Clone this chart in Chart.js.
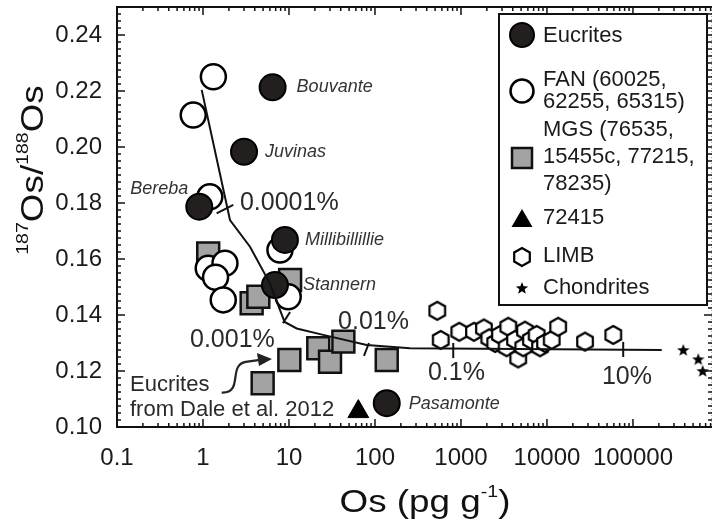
<!DOCTYPE html>
<html><head><meta charset="utf-8">
<script src="https://cdn.jsdelivr.net/npm/chart.js@4.4.1/dist/chart.umd.min.js"></script>
<style>html,body{margin:0;padding:0;background:#fff;overflow:hidden}#wrap{width:713px;height:530px;position:relative}canvas{display:block}</style>
</head><body><div id="wrap"><canvas id="c" width="713" height="530" style="width:713px;height:530px"></canvas></div>
<script>
// ---------- data ----------
const xTickValues = [0.1, 1, 10, 100, 1000, 10000, 100000];
const xTickLabels = ['0.1', '1', '10', '100', '1000', '10000', '100000'];
const yTickValues = [0.10, 0.12, 0.14, 0.16, 0.18, 0.20, 0.22, 0.24];
const yTickLabels = ['0.10', '0.12', '0.14', '0.16', '0.18', '0.20', '0.22', '0.24'];

const eucriteNames = ['Bouvante', 'Juvinas', 'Bereba', 'Millibillillie', 'Stannern', 'Pasamonte'];
const eucriteOs    = [6.45, 3.0, 0.905, 8.97, 6.87, 137];
const eucriteRatio = [0.2213, 0.1983, 0.1787, 0.1668, 0.1507, 0.1085];

const fanOs    = [1.32, 0.77, 1.2, 7.85, 1.15, 1.8, 1.4, 1.72, 9.8];
const fanRatio = [0.2251, 0.2114, 0.1822, 0.1632, 0.1567, 0.1585, 0.1535, 0.1454, 0.1465];

const mgsOs    = [1.15, 3.68, 4.4, 10.3, 10.1, 21.9, 30, 42.9, 137, 4.94];
const mgsRatio = [0.162, 0.1442, 0.1465, 0.1525, 0.1239, 0.1281, 0.1233, 0.1305, 0.1239, 0.1156];

const s72415Os    = [64];
const s72415Ratio = [0.1055];

const limbOs    = [530, 581, 955, 1416, 1849, 2133, 2500, 2838, 3400, 3548, 4250, 4634, 5300, 5545, 6500, 7586, 8300, 9500, 11350, 13500, 27700, 59000];
const limbRatio = [0.1415, 0.1311, 0.134, 0.134, 0.1352, 0.1317, 0.130, 0.1329, 0.1285, 0.1358, 0.1311, 0.1245, 0.1285, 0.1344, 0.1311, 0.1329, 0.1285, 0.130, 0.1311, 0.1358, 0.1305, 0.1329];

const chondriteOs    = [385000, 575000, 646000];
const chondriteRatio = [0.1275, 0.1242, 0.120];

const mixOs    = [0.966, 2.06, 3.52, 6.0, 7.85, 8.9, 12.3, 25, 80, 255, 216000];
const mixRatio = [0.2204, 0.1739, 0.1644, 0.1513, 0.1418, 0.1375, 0.1352, 0.1329, 0.1293, 0.1281, 0.1275];

const mixTickLabels = ['0.0001%', '0.001%', '0.01%', '0.1%', '10%'];

// ---------- layout / styling (not data) ----------
const FONT = '"Liberation Sans", Arial, Helvetica, sans-serif';
const nameOffsets = [[24, 0, 'left'], [21, 0, 'left'], [-11, -18, 'right'], [20, 0, 'left'], [28, 0, 'left'], [22, 1, 'left']];
const pctLabelPos = [[2.69, 0.180], [0.706, 0.1311], [37.2, 0.1375], [413, 0.1193], [43600, 0.1179]];
const mixTickSegs = [[[1.44, 0.1763], [2.25, 0.1793]], [[8.5, 0.1371], [10.3, 0.1411]], [[74.5, 0.1254], [85, 0.130]], [[813, 0.130], [813, 0.1246]], [[77000, 0.1304], [77000, 0.125]]];
const daleTextPos = [0.1416, 0.115];
const daleArrow = {start: [1.65, 0.1123], tip: [6.34, 0.1243]};

function pts(xs, ys) { return xs.map((x, i) => ({x: x, y: ys[i]})); }

const hexImg = (() => {
  const r = 9, lw = 2.2, s = 24;
  const c = document.createElement('canvas'); c.width = s; c.height = s;
  const g = c.getContext('2d'); g.translate(s / 2, s / 2);
  g.beginPath();
  for (let i = 0; i < 6; i++) { const a = Math.PI / 2 + i * Math.PI / 3; const px = r * Math.cos(a), py = r * Math.sin(a); i ? g.lineTo(px, py) : g.moveTo(px, py); }
  g.closePath(); g.fillStyle = '#fff'; g.fill(); g.lineWidth = lw; g.strokeStyle = '#000'; g.stroke();
  return c;
})();
const starImg = (() => {
  const R = 6.5, r0 = 2.8, s = 16;
  const c = document.createElement('canvas'); c.width = s; c.height = s;
  const g = c.getContext('2d'); g.translate(s / 2, s / 2 + 0.5);
  g.beginPath();
  for (let i = 0; i < 10; i++) { const a = -Math.PI / 2 + i * Math.PI / 5; const rr = i % 2 ? r0 : R; const px = rr * Math.cos(a), py = rr * Math.sin(a); i ? g.lineTo(px, py) : g.moveTo(px, py); }
  g.closePath(); g.fillStyle = '#000'; g.fill();
  return c;
})();

function line(ctx, x1, y1, x2, y2) { ctx.beginPath(); ctx.moveTo(x1, y1); ctx.lineTo(x2, y2); ctx.stroke(); }

const annotations = {
  id: 'annotations',
  afterDatasetsDraw(chart) {
    const ctx = chart.ctx, xs = chart.scales.x, ys = chart.scales.y;
    ctx.save();
    ctx.strokeStyle = '#111'; ctx.lineWidth = 2;
    mixTickSegs.forEach(s => line(ctx, xs.getPixelForValue(s[0][0]), ys.getPixelForValue(s[0][1]), xs.getPixelForValue(s[1][0]), ys.getPixelForValue(s[1][1])));
    ctx.fillStyle = '#2a2a2a'; ctx.font = '25px ' + FONT; ctx.textBaseline = 'middle'; ctx.textAlign = 'left';
    mixTickLabels.forEach((t, i) => ctx.fillText(t, xs.getPixelForValue(pctLabelPos[i][0]), ys.getPixelForValue(pctLabelPos[i][1])));
    ctx.font = 'italic 18px ' + FONT; ctx.fillStyle = '#333';
    eucriteNames.forEach((n, i) => {
      const o = nameOffsets[i];
      ctx.textAlign = o[2];
      ctx.fillText(n, xs.getPixelForValue(eucriteOs[i]) + o[0], ys.getPixelForValue(eucriteRatio[i]) + o[1]);
    });
    ctx.font = '22px ' + FONT; ctx.fillStyle = '#2a2a2a'; ctx.textAlign = 'left';
    const dx = xs.getPixelForValue(daleTextPos[0]), dy = ys.getPixelForValue(daleTextPos[1]);
    ctx.fillText('Eucrites', dx, dy);
    ctx.fillText('from Dale et al. 2012', dx, dy + 25);
    const sx = xs.getPixelForValue(daleArrow.start[0]), sy = ys.getPixelForValue(daleArrow.start[1]);
    const tx = xs.getPixelForValue(daleArrow.tip[0]), ty = ys.getPixelForValue(daleArrow.tip[1]);
    ctx.strokeStyle = '#222'; ctx.lineWidth = 2.2;
    ctx.beginPath(); ctx.moveTo(sx, sy);
    ctx.bezierCurveTo(sx + 22, sy + 1, sx + 6, ty + 6, sx + 24, ty + 3);
    ctx.lineTo(tx - 12, ty + 1); ctx.stroke();
    ctx.fillStyle = '#222';
    ctx.beginPath(); ctx.moveTo(tx, ty); ctx.lineTo(tx - 15, ty - 6); ctx.lineTo(tx - 13, ty + 7); ctx.closePath(); ctx.fill();
    ctx.restore();
  },
  afterDraw(chart) {
    const ctx = chart.ctx, xs = chart.scales.x, ys = chart.scales.y, a = chart.chartArea;
    ctx.save();
    ctx.strokeStyle = '#111'; ctx.lineWidth = 2;
    ctx.beginPath(); ctx.moveTo(a.right, a.top); ctx.lineTo(a.left, a.top); ctx.lineTo(a.left, a.bottom); ctx.lineTo(a.right, a.bottom); ctx.stroke();
    ctx.strokeStyle = '#aaa'; ctx.lineWidth = 1; ctx.setLineDash([1, 2]);
    line(ctx, a.right - 0.5, a.top, a.right - 0.5, a.bottom);
    ctx.setLineDash([]);
    ctx.strokeStyle = '#111'; ctx.lineWidth = 1.5;
    for (let k = -1; k <= 6; k++) for (let m = 1; m <= 9; m++) {
      const v = m * Math.pow(10, k); if (v < xs.min * 0.999 || v > xs.max) continue;
      const px = xs.getPixelForValue(v); const L = m === 1 ? 8 : 4;
      line(ctx, px, a.bottom, px, a.bottom - L); line(ctx, px, a.top, px, a.top + L);
    }
    for (let i = 0; i <= 60; i++) {
      const v = 0.10 + i * 0.0025; if (v > 0.2501) break;
      const py = ys.getPixelForValue(v); const L = i % 8 === 0 ? 8 : 4;
      line(ctx, a.left, py, a.left + L, py); line(ctx, a.right, py, a.right - L, py);
    }
    // x title (slightly widened like the original artwork)
    ctx.fillStyle = '#111'; ctx.textBaseline = 'alphabetic'; ctx.textAlign = 'left';
    const SX = 1.15;
    ctx.font = '32px ' + FONT;
    const t1 = 'Os (pg g', t2 = '-1', t3 = ')';
    const w1 = ctx.measureText(t1).width, w3 = ctx.measureText(t3).width;
    ctx.font = '17px ' + FONT; const w2 = ctx.measureText(t2).width;
    ctx.save(); ctx.translate(425, 512); ctx.scale(SX, 1);
    let x0 = -(w1 + w2 + w3) / 2;
    ctx.font = '32px ' + FONT; ctx.fillText(t1, x0, 0);
    ctx.font = '17px ' + FONT; ctx.fillText(t2, x0 + w1, -15);
    ctx.font = '32px ' + FONT; ctx.fillText(t3, x0 + w1 + w2, 0);
    ctx.restore();
    // y title rotated
    ctx.save(); ctx.translate(43, 170); ctx.rotate(-Math.PI / 2); ctx.scale(SX, 1);
    const parts = [['187', 17, -15], ['Os/', 32, 0], ['188', 17, -15], ['Os', 32, 0]];
    let tot = 0; parts.forEach(p => { ctx.font = p[1] + 'px ' + FONT; p.w = ctx.measureText(p[0]).width; tot += p.w; });
    let cx = -tot / 2;
    parts.forEach(p => { ctx.font = p[1] + 'px ' + FONT; ctx.fillText(p[0], cx, p[2]); cx += p.w; });
    ctx.restore();
    // legend
    const L = {x: 499, y: 14, w: 208, h: 291};
    ctx.fillStyle = '#fff'; ctx.fillRect(L.x, L.y, L.w, L.h);
    ctx.strokeStyle = '#111'; ctx.lineWidth = 2; ctx.strokeRect(L.x, L.y, L.w, L.h);
    const mx = 522, tx = 543;
    const entries = [
      {lines: ['Eucrites'], ys: [36], my: 35, draw: (x, y) => { ctx.beginPath(); ctx.arc(x, y, 12, 0, 2 * Math.PI); ctx.fillStyle = '#231f1f'; ctx.fill(); ctx.lineWidth = 2; ctx.strokeStyle = '#000'; ctx.stroke(); }},
      {lines: ['FAN (60025,', '62255, 65315)'], ys: [80, 102], my: 91, draw: (x, y) => { ctx.beginPath(); ctx.arc(x, y, 11.5, 0, 2 * Math.PI); ctx.fillStyle = '#fff'; ctx.fill(); ctx.lineWidth = 2.5; ctx.strokeStyle = '#000'; ctx.stroke(); }},
      {lines: ['MGS (76535,', '15455c, 77215,', '78235)'], ys: [130, 157, 184], my: 158, draw: (x, y) => { ctx.fillStyle = '#a3a3a3'; ctx.fillRect(x - 10, y - 10, 20, 20); ctx.lineWidth = 2.5; ctx.strokeStyle = '#111'; ctx.strokeRect(x - 10, y - 10, 20, 20); }},
      {lines: ['72415'], ys: [218], my: 219, draw: (x, y) => { ctx.beginPath(); ctx.moveTo(x, y - 10); ctx.lineTo(x + 10.5, y + 8); ctx.lineTo(x - 10.5, y + 8); ctx.closePath(); ctx.fillStyle = '#000'; ctx.fill(); }},
      {lines: ['LIMB'], ys: [256], my: 257, draw: (x, y) => { ctx.drawImage(hexImg, x - 12, y - 12); }},
      {lines: ['Chondrites'], ys: [288], my: 288, draw: (x, y) => { ctx.drawImage(starImg, x - 8, y - 8); }}
    ];
    entries.forEach(e => {
      e.draw(mx, e.my);
      ctx.fillStyle = '#1a1a1a'; ctx.font = '22px ' + FONT; ctx.textBaseline = 'middle'; ctx.textAlign = 'left';
      e.lines.forEach((t, i) => ctx.fillText(t, tx, e.ys[i]));
    });
    ctx.restore();
  }
};

new Chart(document.getElementById('c'), {
  type: 'scatter',
  data: {
    datasets: [
      {label: 'Mixing', data: pts(mixOs, mixRatio), showLine: true, borderColor: '#111', borderWidth: 2, pointRadius: 0, tension: 0, order: 0},
      {label: 'Eucrites', data: pts(eucriteOs, eucriteRatio), pointStyle: 'circle', pointRadius: 13, backgroundColor: '#231f1f', borderColor: '#000', borderWidth: 2, order: 1},
      {label: 'FAN', data: pts(fanOs, fanRatio), pointStyle: 'circle', pointRadius: 12.5, backgroundColor: '#fff', borderColor: '#000', borderWidth: 2.5, order: 2},
      {label: 'MGS', data: pts(mgsOs, mgsRatio), pointStyle: 'rect', pointRadius: 15.5, backgroundColor: '#a3a3a3', borderColor: '#111', borderWidth: 2.5, order: 3},
      {label: '72415', data: pts(s72415Os, s72415Ratio), pointStyle: 'triangle', pointRadius: 12, backgroundColor: '#000', borderColor: '#000', borderWidth: 1, order: 1},
      {label: 'LIMB', data: pts(limbOs, limbRatio), pointStyle: hexImg, order: 4},
      {label: 'Chondrites', data: pts(chondriteOs, chondriteRatio), pointStyle: starImg, order: 4}
    ]
  },
  options: {
    responsive: false,
    animation: false,
    events: [],
    layout: {autoPadding: false, padding: {top: 7, right: 1, left: 0, bottom: 0}},
    plugins: {legend: {display: false}, tooltip: {enabled: false}},
    scales: {
      x: {
        type: 'logarithmic', position: 'bottom', min: 0.1, max: 830000,
        grid: {display: false, drawTicks: false}, border: {display: false},
        afterBuildTicks: s => { s.ticks = xTickValues.map(v => ({value: v, major: true})); },
        afterFit: s => { s.height = 103; s.paddingLeft = 0; s.paddingRight = 0; },
        ticks: {autoSkip: false, maxRotation: 0, padding: 17, color: '#1a1a1a', font: {family: FONT, size: 24},
          callback: (v, i) => xTickLabels[i]}
      },
      y: {
        type: 'linear', min: 0.10, max: 0.25,
        grid: {display: false, drawTicks: false}, border: {display: false},
        afterBuildTicks: s => { s.ticks = yTickValues.map(v => ({value: v})); },
        afterFit: s => { s.width = 117; s.paddingTop = 0; s.paddingBottom = 0; },
        ticks: {padding: 15, color: '#1a1a1a', font: {family: FONT, size: 24},
          callback: (v, i) => yTickLabels[i]}
      }
    }
  },
  plugins: [annotations]
});
</script>
</body></html>
